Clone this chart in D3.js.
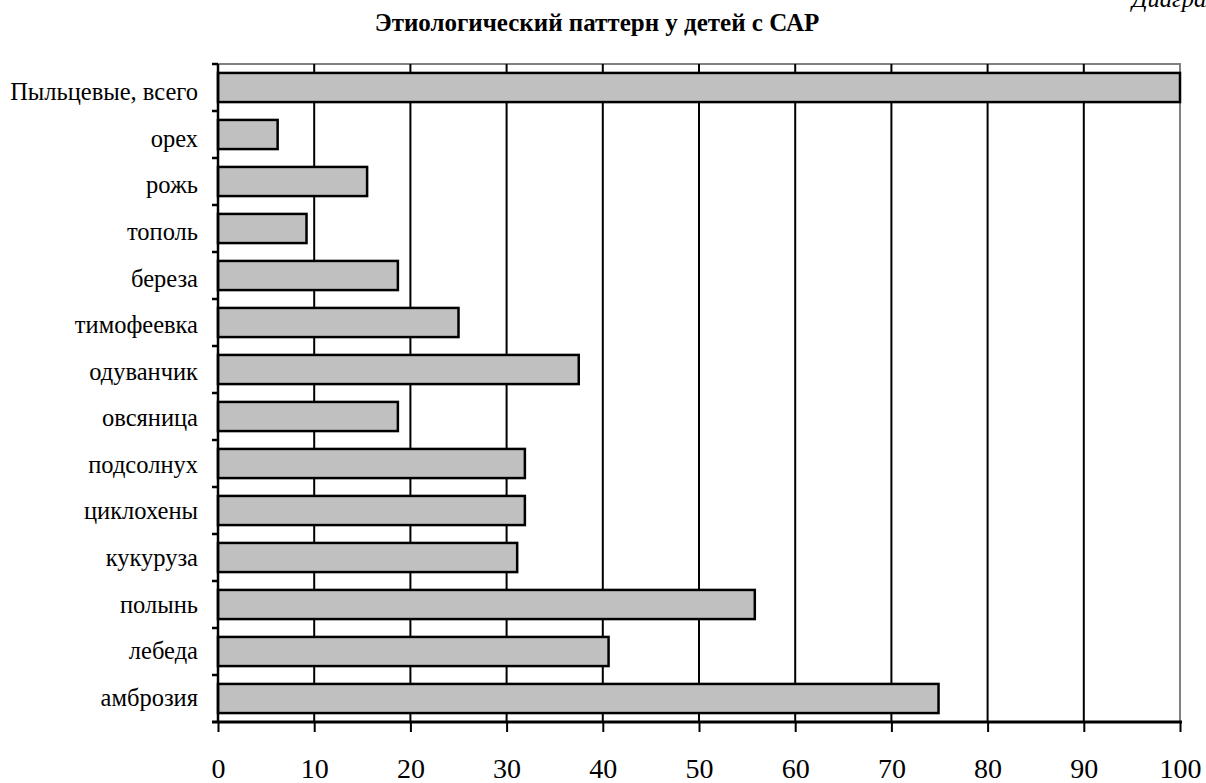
<!DOCTYPE html>
<html>
<head>
<meta charset="utf-8">
<script src="https://cdn.jsdelivr.net/npm/d3@7"></script>
<style>
  html, body { margin: 0; padding: 0; background: #fff; }
  svg { display: block; }
</style>
</head>
<body>
<svg id="chart" width="1206" height="783"></svg>
<script>
// Allergen categories, top to bottom
const categories = [
  "Пыльцевые, всего", "орех", "рожь", "тополь", "береза", "тимофеевка",
  "одуванчик", "овсяница", "подсолнух", "циклохены", "кукуруза",
  "полынь", "лебеда", "амброзия"
];
// Share of children sensitised, %
const values = [100, 6.2, 15.5, 9.2, 18.7, 25.0, 37.5, 18.7, 31.9, 31.9, 31.1, 55.8, 40.6, 74.9];
const xTicks = [0, 10, 20, 30, 40, 50, 60, 70, 80, 90, 100];
const title = "Этиологический паттерн у детей с САР";
const caption = "Диаграмма";

const FONT = "Liberation Serif";
const svg = d3.select("#chart");
const plot = { left: 218, right: 1180, top: 64, bottom: 722 };

const x = d3.scaleLinear().domain([0, 100]).range([plot.left, plot.right]);
const y = d3.scaleBand().domain(categories).range([plot.top, plot.bottom])
  .paddingInner(0.38).paddingOuter(0.19);
// Label rows sit a touch lower at the top of the axis
const yLabel = d3.scaleBand().domain(categories).range([plot.top + 4, plot.bottom - 2]);

// Caption fragment at the top-right corner
svg.append("text").attr("x", 1132).attr("y", 7)
  .attr("font-family", FONT).attr("font-size", 24.5).attr("font-style", "italic")
  .attr("fill", "#000").text(caption);

// Title
svg.append("text").attr("x", 597).attr("y", 31).attr("text-anchor", "middle")
  .attr("font-family", FONT).attr("font-size", 25).attr("font-weight", "bold")
  .attr("fill", "#000").text(title);

// Plot frame (top and right, grey)
svg.append("path")
  .attr("d", `M${plot.left},${plot.top}H${plot.right}V${plot.bottom}`)
  .attr("fill", "none").attr("stroke", "#808080").attr("stroke-width", 2);

// Vertical gridlines
svg.append("g").selectAll("line").data(xTicks.filter(t => t > 0 && t < 100)).join("line")
  .attr("x1", d => x(d)).attr("x2", d => x(d))
  .attr("y1", plot.top).attr("y2", plot.bottom)
  .attr("stroke", "#000").attr("stroke-width", 2);

// Bars
svg.append("g").selectAll("rect").data(values).join("rect")
  .attr("x", x(0))
  .attr("y", (d, i) => y(categories[i]))
  .attr("width", d => x(d) - x(0))
  .attr("height", y.bandwidth())
  .attr("fill", "#c0c0c0").attr("stroke", "#000").attr("stroke-width", 2.5);

// Category axis (ticks between categories)
const yAxis = svg.append("g");
yAxis.append("line").attr("x1", plot.left).attr("x2", plot.left)
  .attr("y1", plot.top).attr("y2", plot.bottom + 1)
  .attr("stroke", "#000").attr("stroke-width", 2.5);
const boundaries = categories.map(c => y(c) - (y.step() * y.paddingInner()) / 2)
  .map((v, i) => i === 0 ? plot.top : v);
yAxis.selectAll(".tk").data(boundaries).join("line")
  .attr("x1", plot.left - 6).attr("x2", plot.left)
  .attr("y1", d => d).attr("y2", d => d)
  .attr("stroke", "#000").attr("stroke-width", 2.5);
yAxis.selectAll("text").data(categories).join("text")
  .attr("x", plot.left - 20)
  .attr("y", d => yLabel(d) + yLabel.bandwidth() / 2 + 9)
  .attr("text-anchor", "end")
  .attr("font-family", FONT)
  .attr("font-size", 24.5)
  .attr("fill", "#000")
  .text(d => d);

// Value axis
const xAxis = d3.axisBottom(x).tickValues(xTicks).tickSize(10).tickFormat(d3.format("d"));
const gx = svg.append("g").attr("transform", `translate(0,${plot.bottom})`).call(xAxis);
gx.attr("font-family", FONT);
gx.select(".domain").remove();
gx.append("line").attr("x1", plot.left - 6).attr("x2", plot.right + 2)
  .attr("y1", 0).attr("y2", 0).attr("stroke", "#000").attr("stroke-width", 3);
gx.selectAll(".tick line").attr("stroke", "#000").attr("stroke-width", 2);
gx.selectAll(".tick text").attr("font-size", 28).attr("fill", "#000")
  .attr("y", 56).attr("dy", 0);
</script>
</body>
</html>
